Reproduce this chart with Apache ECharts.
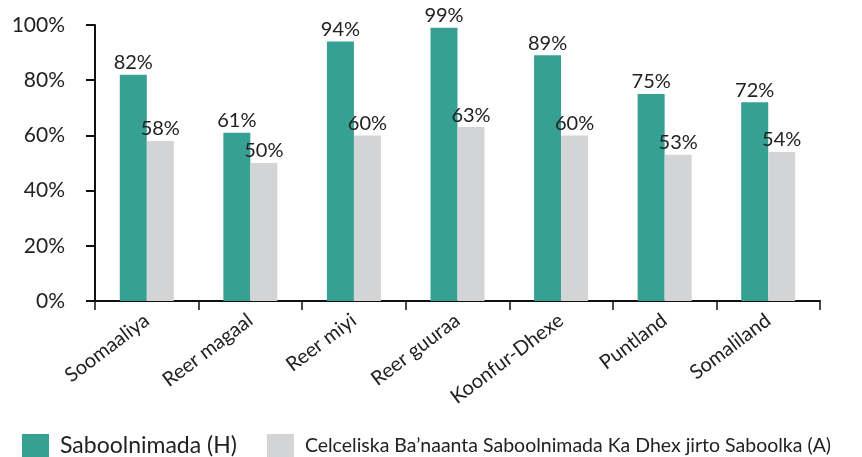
<!DOCTYPE html>
<html><head><meta charset="utf-8">
<script src="https://cdn.jsdelivr.net/npm/echarts@6/dist/echarts.min.js"></script>
<style>html,body{margin:0;padding:0;background:#fff}#c{width:862px;height:457px}</style>
</head><body><div id="c"></div>
<script>
const categories = ["Soomaaliya","Reer magaal","Reer miyi","Reer guuraa","Koonfur-Dhexe","Puntland","Somaliland"];
const seriesNames = ["Saboolnimada (H)","Celceliska Ba\u2019naanta Saboolnimada Ka Dhex jirto Saboolka (A)"];
const headcount = [82,61,94,99,89,75,72];
const intensity = [58,50,60,63,60,53,54];
const yTicks = [0,20,40,60,80,100];

const FONT = 'Lato, "Noto Sans", sans-serif';
const chart = echarts.init(document.getElementById('c'));
chart.setOption({
  animation:false,
  textStyle:{fontFamily:FONT},
  grid:{left:95,right:42,top:25,bottom:156,containLabel:false},
  legend:{
    top:434,left:22,itemWidth:27,itemHeight:24,itemGap:30,padding:0,
    icon:'rect',
    formatter:n=>n===seriesNames[0]?'{a|'+n+'}':'{b|'+n+'}',
    textStyle:{color:'#222',fontFamily:FONT,padding:[0,0,0,6],
      rich:{a:{fontSize:23,lineHeight:24,color:'#222',fontFamily:FONT},b:{fontSize:19.5,lineHeight:24,color:'#222',fontFamily:FONT}}},
    data:seriesNames
  },
  xAxis:{
    type:'category',data:categories,
    axisLine:{lineStyle:{color:'#111',width:2}},
    axisTick:{show:true,length:9,lineStyle:{color:'#111',width:1.5}},
    axisLabel:{rotate:37,fontSize:20,color:'#222',margin:17,fontFamily:FONT}
  },
  yAxis:{
    type:'value',min:0,max:100,interval:20,
    axisLine:{show:true,lineStyle:{color:'#111',width:2}},
    axisTick:{show:true,length:9,lineStyle:{color:'#111',width:2}},
    splitLine:{show:false},
    axisLabel:{fontSize:21,color:'#222',margin:30,fontFamily:FONT,
      formatter:v=>yTicks.includes(v)?v+'%':''}
  },
  series:[
    {name:seriesNames[0],type:'bar',data:headcount,barWidth:27,barGap:'0%',
     itemStyle:{color:'#36a193'},
     label:{show:true,position:'top',distance:2,fontSize:20,color:'#222',fontFamily:FONT,formatter:p=>p.value+'%'}},
    {name:seriesNames[1],type:'bar',data:intensity,barWidth:27,barGap:'0%',
     itemStyle:{color:'#d3d4d6'},
     label:{show:true,position:'top',distance:2,fontSize:20,color:'#222',fontFamily:FONT,formatter:p=>p.value+'%'}}
  ]
});
</script></body></html>
